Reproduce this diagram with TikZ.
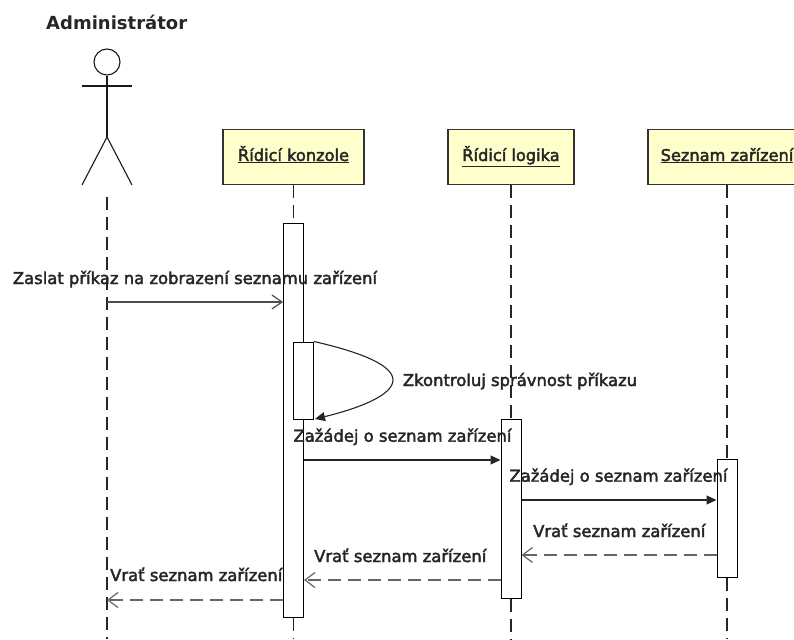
\documentclass[tikz,border=0pt]{standalone}
\usepackage{fontspec}
\setmainfont{DejaVu Sans}
\newfontfamily\msgfont{DejaVu Sans}[FakeBold=2.5]
\usetikzlibrary{arrows.meta}
\definecolor{boxfill}{RGB}{255,255,204}
\begin{document}
\begin{tikzpicture}[x=1pt,y=-1pt,
  lbl/.style={anchor=base west, inner sep=0pt, font=\msgfont\fontsize{16.4}{19}\selectfont, text=black!85},
  objbox/.style={draw=black!80, line width=1.4pt, fill=boxfill, minimum height=55pt, inner sep=0pt, font=\msgfont\fontsize{16.2}{19}\selectfont, text=black!85},
  actbar/.style={draw=black, line width=1pt, fill=white, minimum width=20pt, inner sep=0pt},
  life/.style={draw=black!85, line width=1.2pt, dash pattern=on 13pt off 7pt},
  callmsg/.style={draw=black!85, line width=1.1pt, -{Triangle[length=10pt,width=9pt]}},
  sendmsg/.style={draw=black!70, line width=1.2pt, -{Straight Barb[length=10pt,width=14pt]}},
  retmsg/.style={draw=black!60, line width=1.2pt, dash pattern=on 13pt off 7pt, -{Straight Barb[length=10pt,width=15pt]}},
  figure/.style={draw=black!90, line width=1.1pt}
]
\useasboundingbox (0,0) rectangle (794,639);
\clip (0,0) rectangle (794,639);
\fill[white] (0,0) rectangle (794,639);

% actor
\node[anchor=base, inner sep=0pt, font=\bfseries\fontsize{18}{21}\selectfont, text=black!85] (title) at (116.7,30) {Administrátor};
\node[figure, circle, minimum size=26pt, inner sep=0pt] (head) at (107,62) {};
\coordinate (hip) at (107,137);
\coordinate (lhand) at (82,86);
\coordinate (rhand) at (132,86);
\coordinate (lfoot) at (82,185);
\coordinate (rfoot) at (132,185);
\draw[figure] (lhand) -- (rhand);
\draw[figure] (head.south) -- (hip);
\draw[figure] (lfoot) -- (hip) -- (rfoot);
\coordinate (alTop) at (107,197);
\coordinate (alBot) at (107,639);
\draw[life] (alTop) -- (alBot);

% objects
\node[objbox, minimum width=141pt, text depth=5pt, text height=13pt] (konz) at (293.5,157) {\underline{Řídicí konzole}};
\node[objbox, minimum width=126pt, text depth=5pt, text height=13pt] (logic) at (511,157) {\underline{Řídicí logika}};
\node[objbox, minimum width=158pt, text depth=5pt, text height=13pt] (seznam) at (727,157) {\underline{Seznam zařízení}};

% activation bars
\node[actbar, minimum height=394pt] (kbar) at (293.5,420) {};
\node[actbar, minimum height=179pt] (lbar) at (511,508.5) {};
\node[actbar, minimum height=118pt] (sbar) at (727,518) {};

% lifelines
\draw[life] (konz.south) -- (kbar.north);
\draw[life] (kbar.south) -- (konz.south |- 0,639);
\draw[life] (logic.south) -- (lbar.north);
\draw[life] (lbar.south) -- (logic.south |- 0,639);
\draw[life] (seznam.south) -- (sbar.north);
\draw[life] (sbar.south) -- (seznam.south |- 0,639);

% inner activation (self call)
\node[actbar, minimum height=77pt] (ibar) at (303.5,380.5) {};

% messages
\draw[sendmsg] (alTop |- 0,302) -- (kbar.west |- 0,302);
\node[lbl] (l1) at (12.7,284) {Zaslat příkaz na zobrazení seznamu zařízení};

\coordinate (selfend) at (315,419);
\draw[callmsg] (ibar.north east) .. controls (360,352) and (393,365) .. (393,380) .. controls (393,395) and (360,408) .. (selfend);
\node[lbl] (l2) at (402.7,386) {Zkontroluj správnost příkazu};

\draw[callmsg] (kbar.east |- 0,460) -- (lbar.west |- 0,460);
\node[lbl] (l3) at (293.3,441.7) {Zažádej o seznam zařízení};

\draw[callmsg] (lbar.east |- 0,500) -- (sbar.west |- 0,500);
\node[lbl] (l4) at (509.3,481.7) {Zažádej o seznam zařízení};

\draw[retmsg] (sbar.west |- 0,555) -- (lbar.east |- 0,555);
\node[lbl] (l5) at (533,537) {Vrať seznam zařízení};

\draw[retmsg] (lbar.west |- 0,580) -- (kbar.east |- 0,580);
\node[lbl] (l6) at (314,562) {Vrať seznam zařízení};

\draw[retmsg] (kbar.west |- 0,600) -- (alTop |- 0,600);
\node[lbl] (l7) at (110,581) {Vrať seznam zařízení};
\end{tikzpicture}
\end{document}
